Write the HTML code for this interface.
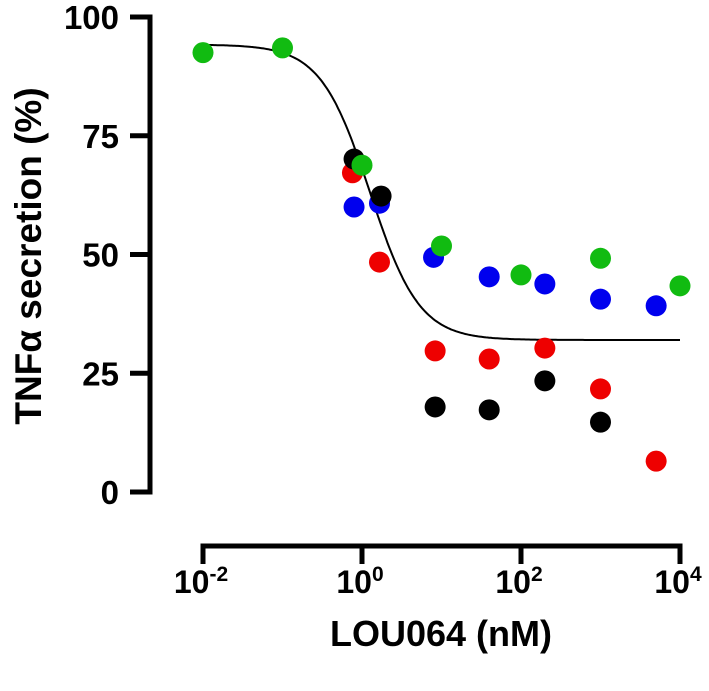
<!DOCTYPE html>
<html><head><meta charset="utf-8"><style>
body{margin:0;background:#fff}
svg text{font-family:"Liberation Sans",Arial,sans-serif;font-weight:bold;fill:#000}
</style></head><body>
<svg width="709" height="686" xmlns="http://www.w3.org/2000/svg">
<g id="axes"></g>
<g id="curve"></g>
<g id="points"></g>
<text transform="translate(41,256) rotate(-90)" text-anchor="middle" font-size="37">TNFα secretion (%)</text>
<text x="441" y="646" text-anchor="middle" font-size="36">LOU064 (nM)</text>
</svg>
<script>
const yTicks=[0,25,50,75,100];
const xTicks=[-2,0,2,4];
const greenX=[-2,-1,0,1,2,3,4];
const greenY=[92.5,93.5,68.8,51.8,45.7,49.2,43.4];
const blueX=[-0.1,0.22,0.9,1.6,2.3,3,3.7];
const blueY=[60,60.8,49.4,45.3,43.8,40.6,39.2];
const blackX=[-0.1,0.24,0.92,1.6,2.3,3];
const blackY=[70.1,62.3,17.9,17.3,23.4,14.7];
const redX=[-0.12,0.22,0.92,1.6,2.3,3,3.7];
const redY=[67.2,48.4,29.7,28,30.3,21.7,6.5];
const fitTop=94.2, fitBottom=32, fitLogIC50=0.1, fitHill=1.4;

const NS="http://www.w3.org/2000/svg";
const xs=v=>203+(v+2)*79.5;
const ys=v=>492-v*4.75;
function mk(tag,attrs,parent){const e=document.createElementNS(NS,tag);for(const k in attrs)e.setAttribute(k,attrs[k]);parent.appendChild(e);return e;}
const axes=document.getElementById('axes');
let yl=mk('line',{x1:150,y1:ys(100)-2.5,x2:150,y2:ys(0)+2.5,stroke:'#000','stroke-width':5},axes);


yTicks.forEach(t=>{
 const l=mk('line',{x1:130,y1:ys(t),x2:150,y2:ys(t),stroke:'#000','stroke-width':5},axes);
 
 
 const tx=mk('text',{x:119,y:ys(t)+12,'text-anchor':'end','font-size':33},axes);
 tx.textContent=t;
 
 
});
let xl=mk('line',{x1:xs(-2)-2.5,y1:546,x2:xs(4)+2.5,y2:546,stroke:'#000','stroke-width':5},axes);


xTicks.forEach(t=>{
 const l=mk('line',{x1:xs(t),y1:546,x2:xs(t),y2:564,stroke:'#000','stroke-width':5},axes);
 
 
 const tx=mk('text',{x:xs(t)-2,y:593,'text-anchor':'middle','font-size':32},axes);
 
 
 const a=document.createElementNS(NS,'tspan');a.textContent='10';tx.appendChild(a);
 const b=document.createElementNS(NS,'tspan');b.setAttribute('dy','-12');b.setAttribute('font-size','21');b.textContent=String(t);tx.appendChild(b);
});
let d='';
for(let i=0;i<=300;i++){const lx=-2+i*6/300;const y=fitBottom+(fitTop-fitBottom)/(1+Math.pow(10,(lx-fitLogIC50)*fitHill));d+=(i?'L':'M')+xs(lx).toFixed(1)+','+ys(y).toFixed(1);}
const c=mk('path',{d:d,fill:'none',stroke:'#000','stroke-width':2},document.getElementById('curve'));


const pts=document.getElementById('points');
[[blueX,blueY,'#0000ee','blue'],[redX,redY,'#ee0000','red'],[blackX,blackY,'#000','black'],[greenX,greenY,'#11bb11','green']].forEach(([X,Y,col,nm])=>{
 X.forEach((x,i)=>{
  const p=mk('circle',{cx:xs(x),cy:ys(Y[i]),r:10.5,fill:col},pts);
  
  
 });
});
</script>
</body></html>
